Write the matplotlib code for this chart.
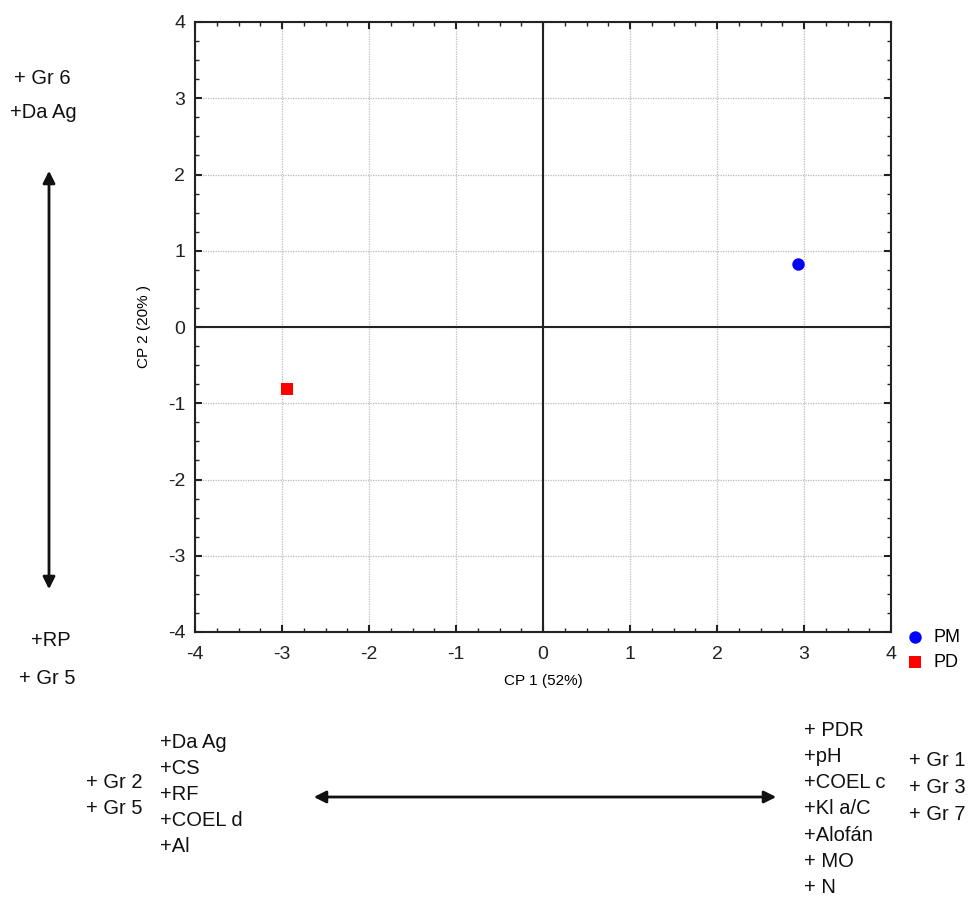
import matplotlib
matplotlib.use("Agg")
import matplotlib.pyplot as plt
import numpy as np

plt.rcParams["font.family"] = ["Liberation Sans", "DejaVu Sans"]

W, H = 968, 898

groups = ["PM", "PD"]
cp1 = [2.93, -2.94]
cp2 = [0.83, -0.81]
colors = ["#0000ff", "#ff0000"]
markers = ["o", "s"]

ticks = [-4, -3, -2, -1, 0, 1, 2, 3, 4]

top_labels = ["+ Gr 6", "+Da Ag"]
bottom_labels = ["+RP", "+ Gr 5"]
left_groups = ["+ Gr 2", "+ Gr 5"]
left_vars = ["+Da Ag", "+CS", "+RF", "+COEL d", "+Al"]
right_vars = ["+ PDR", "+pH", "+COEL c", "+Kl a/C", "+Alofán", "+ MO", "+ N"]
right_groups = ["+ Gr 1", "+ Gr 3", "+ Gr 7"]


def fx(px):
    return px / W


def fy(py):
    return 1 - py / H


fig = plt.figure(figsize=(W / 100, H / 100), dpi=100)
ax = fig.add_axes([fx(195), fy(632), fx(891) - fx(195), fy(22) - fy(632)])

for g, x, y, c, m in zip(groups, cp1, cp2, colors, markers):
    ax.scatter([x], [y], s=80, color=c, marker=m, label=g, zorder=5, linewidths=0)

ax.set_xlim(-4, 4)
ax.set_ylim(-4, 4)
ax.set_xticks(ticks)
ax.set_yticks(ticks)
ax.set_xticks(np.arange(-4, 4.01, 0.25), minor=True)
ax.set_yticks(np.arange(-4, 4.01, 0.25), minor=True)
ax.tick_params(which="both", direction="in", top=True, right=True, labelsize=14, colors="#222222")
ax.tick_params(which="major", length=5, width=1.5)
ax.tick_params(which="minor", length=3, width=1)
ax.tick_params(axis="x", which="major", pad=10)
ax.tick_params(axis="y", which="major", pad=7)
ax.set_xticklabels([str(t) for t in ticks])
ax.set_yticklabels([str(t) for t in ticks])
ax.grid(True, which="major", linestyle=(0, (1, 1)), color="#bbbbbb", linewidth=0.9)
ax.axhline(0, color="#222222", linewidth=1.5)
ax.axvline(0, color="#222222", linewidth=1.5)
for sp in ax.spines.values():
    sp.set_linewidth(1.5)
    sp.set_color("#222222")
ax.set_xlabel("CP 1 (52%)", fontsize=11, labelpad=8)
ax.set_ylabel("CP 2 (20% )", fontsize=11, labelpad=12)

fig.legend(loc="upper left", bbox_to_anchor=(fx(906), fy(629)), frameon=False,
           fontsize=13, handlelength=1.0, handletextpad=0.55, labelspacing=0.45,
           borderpad=0, borderaxespad=0)

txt = dict(fontsize=14.5, color="#111111", va="center", ha="left")

# left side (CP 2)
fig.text(fx(14), fy(78), top_labels[0], **txt)
fig.text(fx(10), fy(113), top_labels[1], **txt)
fig.text(fx(31), fy(640), bottom_labels[0], **txt)
fig.text(fx(19), fy(678), bottom_labels[1], **txt)
ax.annotate("", xy=(fx(49), fy(168)), xytext=(fx(49), fy(592)),
            xycoords="figure fraction", textcoords="figure fraction",
            arrowprops=dict(arrowstyle="<|-|>", color="#111111", lw=2, mutation_scale=18))

# bottom (CP 1)
for i, s in enumerate(left_groups):
    fig.text(fx(86), fy(782 + 26 * i), s, **txt)
for i, s in enumerate(left_vars):
    fig.text(fx(160), fy(742 + 26 * i), s, **txt)
for i, s in enumerate(right_vars):
    fig.text(fx(804), fy(730 + 26.3 * i), s, **txt)
for i, s in enumerate(right_groups):
    fig.text(fx(909), fy(761 + 26.5 * i), s, **txt)
ax.annotate("", xy=(fx(311), fy(797)), xytext=(fx(779), fy(797)),
            xycoords="figure fraction", textcoords="figure fraction",
            arrowprops=dict(arrowstyle="<|-|>", color="#111111", lw=2, mutation_scale=18))

fig.savefig("out.png", dpi=100)
